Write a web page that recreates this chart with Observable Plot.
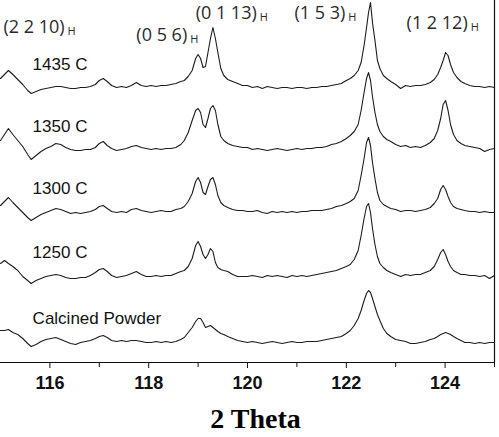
<!DOCTYPE html>
<html><head><meta charset="utf-8">
<script src="https://cdn.jsdelivr.net/npm/d3@7"></script>
<script src="https://cdn.jsdelivr.net/npm/@observablehq/plot@0.6"></script>
<style>body{margin:0;background:#fff}</style>
</head><body><div id="chart"></div>
<script>
// ---- data (2θ grid and intensities above each trace's own baseline, a.u.) ----
const twoTheta = [
  115.00,115.08,115.16,115.25,115.35,115.45,115.55,115.62,115.72,115.82,115.92,116.02,116.12,116.22,116.32,116.42,116.52,116.62,116.72,116.82,116.92,117.00,117.08,117.16,117.25,117.35,117.45,117.55,117.65,117.75,117.85,117.95,118.05,118.15,118.25,118.35,118.45,118.55,118.65,118.72,118.80,118.88,118.95,
  119.00,119.05,119.10,119.15,119.20,119.25,119.30,119.35,119.40,119.46,119.52,119.60,119.70,119.80,119.90,
  120.0,120.1,120.2,120.3,120.4,120.5,120.6,120.7,120.8,120.9,121.0,121.1,121.2,121.3,121.4,121.5,121.6,121.7,121.8,121.9,
  122.00,122.08,122.16,122.24,122.30,122.36,122.41,122.45,122.49,122.53,122.58,122.63,122.68,122.75,122.82,122.90,
  123.0,123.1,123.2,123.3,123.4,123.5,123.6,123.7,
  123.78,123.85,123.91,123.96,124.01,124.06,124.11,124.17,124.24,124.32,
  124.40,124.50,124.60,124.70,124.80,124.90,125.00
];
const i1435 = [
  10,14,18,14,9,4,-2,-5,-3,-1,0,1,2,2,1,0,0,1,1,2,4,8,10,7,3,1,2,1,3,6,3,2,3,2,3,3,4,5,7,8,12,18,30,
  34,30,21,22,36,50,61,50,36,20,13,9,7,5,3,
  3,1,2,0,2,1,0,1,1,0,1,1,0,1,1,2,2,3,4,5,
  8,10,13,18,26,43,61,76,86,66,48,28,20,13,10,7,
  4,0,3,2,3,3,4,6,
  9,14,21,28,36,33,24,16,11,7,
  5,3,2,2,1,2,1
];
const i1350 = [
  10,16,22,16,10,4,-4,-9,-5,-1,2,4,7,6,3,1,0,0,1,1,3,7,9,5,2,0,1,2,4,5,3,2,1,2,1,2,2,3,6,10,18,30,40,
  42,38,26,23,32,42,45,40,26,14,10,7,5,4,3,
  3,1,2,1,0,1,2,1,0,1,2,1,2,2,3,3,4,6,7,9,
  12,15,19,26,40,58,72,78,70,54,38,26,19,14,11,9,
  6,4,5,3,4,3,5,8,
  12,20,32,46,50,40,26,16,10,7,
  5,4,3,2,-1,1,2
];
const i1300 = [
  7,11,15,10,5,0,-5,-8,-5,-2,0,2,4,3,1,-1,0,-1,0,1,3,6,7,4,1,0,1,0,3,4,2,1,0,1,2,1,1,3,4,6,11,19,31,
  35,30,20,18,26,33,35,28,17,10,7,5,3,2,2,
  1,1,2,0,-1,1,0,1,0,1,0,1,1,2,2,2,3,4,6,7,
  9,11,14,22,37,54,70,75,67,50,34,20,12,8,6,4,
  3,1,2,2,1,2,3,5,
  9,14,23,27,23,16,10,6,4,3,
  2,1,1,0,1,0,0
];
const i1250 = [
  13,16,13,10,6,0,-4,-7,-4,-2,0,1,2,1,-1,-2,-2,-1,-1,1,4,7,8,5,1,-1,0,1,3,5,2,0,0,1,0,1,1,3,5,6,10,18,31,
  35,30,22,18,22,28,25,14,9,7,6,5,2,0,0,
  0,1,0,-1,1,0,1,0,-1,1,0,1,0,1,2,3,4,5,6,8,
  10,12,17,26,41,58,70,73,64,48,32,20,13,9,6,4,
  2,0,2,1,2,2,4,6,
  10,17,24,27,22,15,10,6,4,2,
  2,1,1,0,1,-2,1
];
const iCalcined = [
  12,12,13,10,8,4,-1,-4,-2,1,3,4,5,3,1,-1,-2,0,1,2,4,6,7,5,2,1,2,1,2,2,1,0,0,1,0,1,0,1,3,5,10,15,21,
  24,24,20,15,16,17,15,13,11,9,8,6,4,2,1,
  0,1,0,-1,0,1,0,-1,0,1,0,0,1,1,1,2,3,4,5,6,
  9,12,17,24,32,42,49,52,50,44,36,28,22,14,9,6,
  3,2,1,-1,-1,0,1,3,
  4,6,8,9,10,9,8,6,4,2,
  0,0,-1,0,-1,0,0
];
const seriesNames = ["Calcined Powder", "1250 C", "1300 C", "1350 C", "1435 C"];
const seriesOffsets = [20, 86, 150, 212, 274];   // vertical stacking offsets (a.u.)
const peakLabels = ["(2 2 10)", "(0 5 6)", "(0 1 13)", "(1 5 3)", "(1 2 12)"];
const peakSub = "H";
const majorTicks = [116, 118, 120, 122, 124];
const minorTicks = [117, 119, 121, 123, 125];
const xLabel = "2 Theta";

// ---- build table ----
const intensities = [iCalcined, i1250, i1300, i1350, i1435];
const rows = seriesNames.flatMap((s, k) =>
  twoTheta.map((t, i) => ({series: s, t, y: seriesOffsets[k] + intensities[k][i]})));
const nameRows = seriesNames.map((s, k) => ({label: s, t: 115.65, y: seriesOffsets[k] + 19}));
// label anchor layout (2θ, intensity) for hkl annotations
const peakLayout = [[115.06, 330], [117.75, 322], [118.95, 344], [120.95, 344], [123.22, 334]];
const peakRows = peakLabels.map((l, i) => ({label: l, t: peakLayout[i][0], y: peakLayout[i][1]}));

const plot = Plot.plot({
  width: 499, height: 437,
  marginLeft: 0, marginRight: 5, marginTop: 0, marginBottom: 75,
  style: {fontFamily: "Liberation Sans, Arial, sans-serif", background: "#fff", overflow: "visible"},
  x: {domain: [115, 125], axis: null, label: null},
  y: {domain: [0, 362], axis: null},
  marks: [
    Plot.line(rows, {x: "t", y: "y", z: "series", stroke: "#1c1c1c", strokeWidth: 1.1, curve: "linear"}),
    Plot.ruleY([0], {stroke: "#111", strokeWidth: 1.2}),
    Plot.ruleX([125], {stroke: "#111", strokeWidth: 1.2}),
    Plot.axisX(majorTicks, {tickSize: 6, tickPadding: 8, fontSize: 18, fontWeight: "bold", fill: "#111", stroke: "#111", tickFormat: d => String(d), anchor: "bottom", label: null}),
    Plot.axisX(minorTicks, {tickSize: 5, tickFormat: () => "", stroke: "#111", anchor: "bottom", label: null}),
    Plot.text([xLabel], {frameAnchor: "bottom", dx: 8, dy: 57, text: d => d, fontFamily: "Liberation Serif, Times New Roman, serif", fontWeight: "bold", fontSize: 28, fill: "#000", lineAnchor: "middle"}),
    Plot.text(nameRows, {x: "t", y: "y", text: "label", textAnchor: "start", lineAnchor: "bottom", fontSize: 17, fill: "#111"}),
    Plot.text(peakRows, {x: "t", y: "y", text: "label", textAnchor: "start", lineAnchor: "bottom", fontSize: 18, fontFamily: "Open Sans, sans-serif", fill: "#2a2a2a"})
  ]
});
// subscript H after hkl labels
d3.select(plot).selectAll("text").filter(function() { return peakLabels.includes(this.textContent); })
  .append("tspan").attr("dx", 3).attr("dy", 2).attr("font-size", 11).text(peakSub);
document.getElementById("chart").appendChild(plot);
</script>
</body></html>
